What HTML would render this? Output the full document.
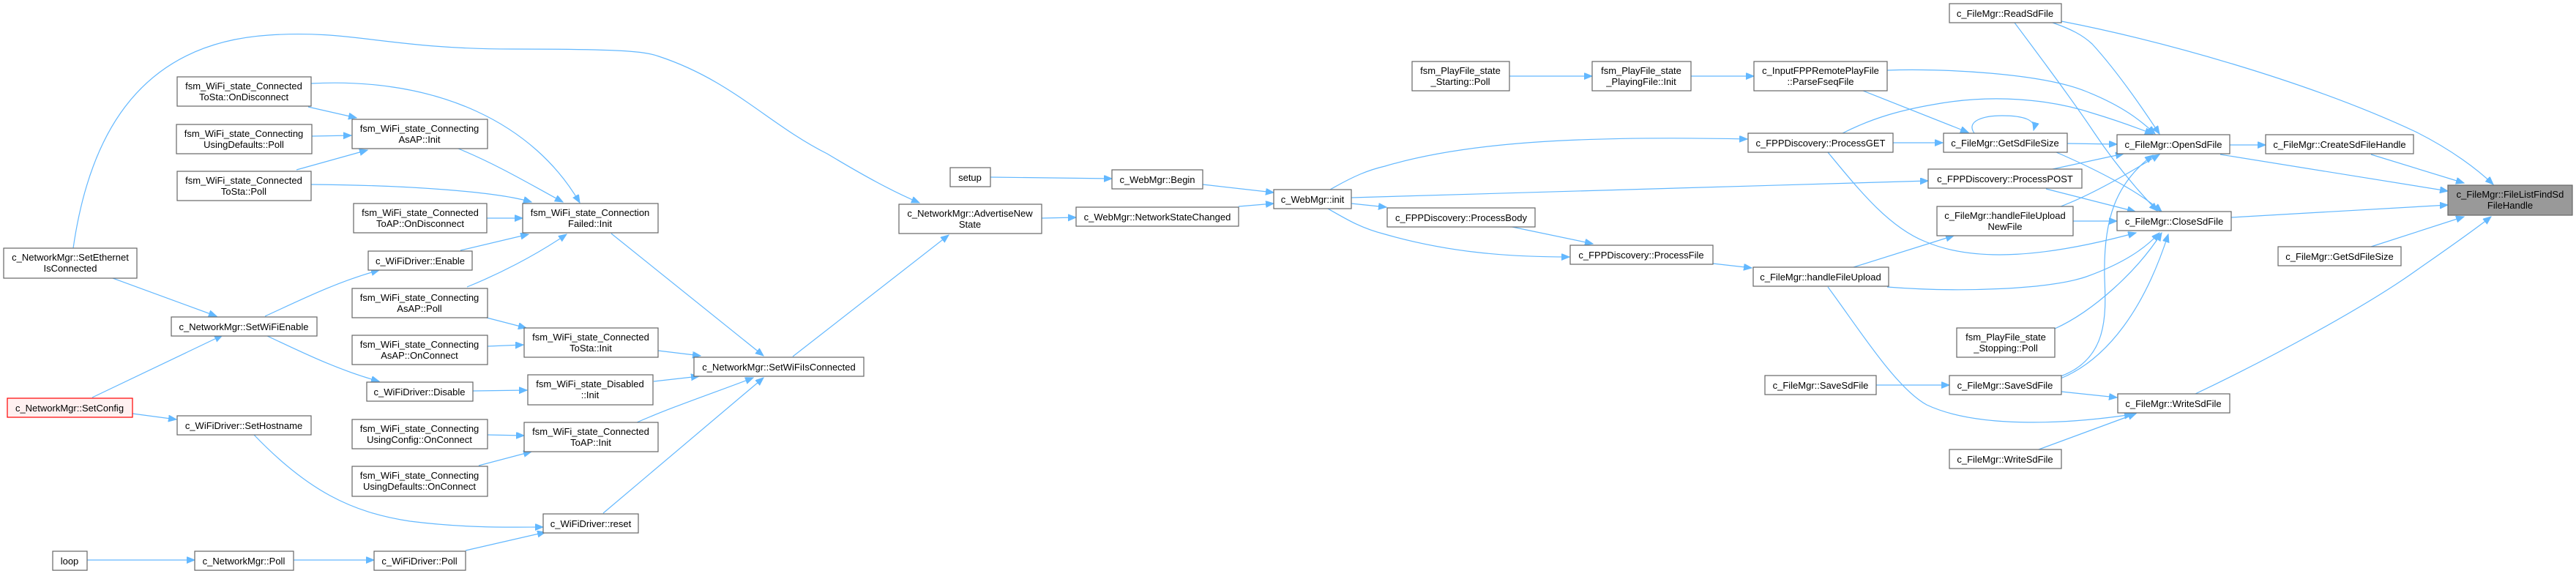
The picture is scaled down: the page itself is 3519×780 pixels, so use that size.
<!DOCTYPE html>
<html><head><meta charset="utf-8"><style>
html,body{margin:0;padding:0;background:#fff;}
svg{display:block;}
text{font-family:"Liberation Sans",Arial,sans-serif;font-size:13px;fill:#000;text-anchor:middle;}
rect{fill:#fff;stroke:#666;stroke-width:1.2;}
path{fill:none;stroke:#63b8ff;stroke-width:1.2;}
</style></head><body>
<svg width="3519" height="780" viewBox="0 0 3519 780" xmlns="http://www.w3.org/2000/svg">
<defs><marker id="a" markerUnits="userSpaceOnUse" markerWidth="12" markerHeight="10" refX="11" refY="4.5" orient="auto"><path d="M0,0 L11,4.5 L0,9 Z" style="fill:#63b8ff;stroke:#63b8ff;stroke-width:1"/></marker></defs>
<g marker-end="url(#a)">
<path d="M100,339 C120,200 180,60 367,48 C480,40 530,67 700,67 C850,67 880,70 900,77 C1000,110 1050,170 1130,210 C1180,240 1220,262 1256,277"/>
<path d="M425,114 C600,105 730,170 792,277"/>
<path d="M421,146 L487,161"/>
<path d="M426,186 L480,185"/>
<path d="M405,232 L502,205"/>
<path d="M626,203 C680,225 730,255 769,276"/>
<path d="M425,252 C560,253 680,262 726,276"/>
<path d="M665,298 L714,298"/>
<path d="M629,342 L722,320"/>
<path d="M638,392 C680,375 730,350 774,320"/>
<path d="M835,319 L1043,486"/>
<path d="M154,380 L296,432"/>
<path d="M362,432 C410,410 460,385 518,369"/>
<path d="M661,433 L719,448"/>
<path d="M666,473 L715,471"/>
<path d="M363,458 C410,480 460,505 518,521"/>
<path d="M646,534 L720,533"/>
<path d="M126,543 L304,458"/>
<path d="M181,565 L241,573"/>
<path d="M666,594 L716,595"/>
<path d="M654,636 L726,617"/>
<path d="M347,594 C420,670 480,700 560,712 C640,722 700,720 742,720"/>
<path d="M636,752 L745,727"/>
<path d="M119,765 L266,765"/>
<path d="M401,765 L511,765"/>
<path d="M899,479 L957,486"/>
<path d="M893,521 L955,514"/>
<path d="M870,577 C920,555 980,535 1029,516"/>
<path d="M824,701 L1043,516"/>
<path d="M1083,487 L1296,321"/>
<path d="M1353,242 L1519,244"/>
<path d="M1423,298 L1470,297"/>
<path d="M1643,252 L1740,263"/>
<path d="M1692,282 L1740,278"/>
<path d="M1817,259 C1850,240 1870,232 1892,227 C2000,195 2150,185 2387,190"/>
<path d="M1846,270 L2634,247"/>
<path d="M1846,278 L1894,283"/>
<path d="M1814,285 C1840,300 1860,312 1892,320 C1980,345 2060,351 2144,351"/>
<path d="M2061,309 L2176,333"/>
<path d="M2340,360 L2393,366"/>
<path d="M2062,104 L2175,104"/>
<path d="M2310,104 L2396,104"/>
<path d="M2578,96 C2650,93 2790,100 2850,125 C2900,145 2925,165 2944,183"/>
<path d="M2545,124 L2689,181"/>
<path d="M2517,182 C2560,160 2600,150 2640,143 C2720,128 2800,135 2860,155 C2900,167 2925,177 2941,183"/>
<path d="M2586,195 L2654,195"/>
<path d="M2497,208 C2540,260 2580,310 2630,330 C2700,360 2800,350 2918,318"/>
<path d="M2532,365 L2669,322"/>
<path d="M2578,392 C2680,400 2800,395 2850,378 C2900,360 2930,340 2950,318"/>
<path d="M2497,392 C2540,450 2590,530 2632,553 C2700,585 2820,580 2913,566"/>
<path d="M2563,526 L2663,526"/>
<path d="M2816,29 C2950,55 3150,110 3300,180 C3350,205 3385,232 3406,252"/>
<path d="M2804,31 C2830,40 2845,48 2858,60 C2890,95 2925,145 2950,183"/>
<path d="M2752,31 C2800,95 2840,150 2860,180 C2890,225 2920,260 2947,288"/>
<path d="M2697,182 C2685,165 2710,158 2735,158 C2765,158 2782,164 2778,178"/>
<path d="M2824,196 L2892,197"/>
<path d="M2809,208 C2860,230 2920,260 2953,289"/>
<path d="M2804,231 L2901,210"/>
<path d="M2795,258 L2917,289"/>
<path d="M2815,282 C2860,265 2910,235 2950,211"/>
<path d="M2832,302 L2892,302"/>
<path d="M2807,449 C2860,425 2920,370 2953,318"/>
<path d="M2815,514 C2880,490 2877,430 2875,380 C2873,300 2890,250 2941,212"/>
<path d="M2815,517 C2880,490 2930,420 2962,320"/>
<path d="M2816,535 L2892,543"/>
<path d="M2785,614 L2918,565"/>
<path d="M3046,198 L3095,198"/>
<path d="M3033,211 L3344,261"/>
<path d="M3239,211 L3366,250"/>
<path d="M3048,297 L3344,280"/>
<path d="M3239,337 L3366,296"/>
<path d="M2999,538 C3100,490 3230,420 3300,370 C3340,342 3375,318 3403,296"/>
</g>
<g>
<rect x="5" y="339" width="182" height="41"/><text x="96" y="356">c_NetworkMgr::SetEthernet</text><text x="96" y="371">IsConnected</text>
<rect x="242" y="105" width="183" height="40"/><text x="333" y="122">fsm_WiFi_state_Connected</text><text x="333" y="137">ToSta::OnDisconnect</text>
<rect x="241" y="170" width="185" height="40"/><text x="333" y="187">fsm_WiFi_state_Connecting</text><text x="333" y="202">UsingDefaults::Poll</text>
<rect x="242" y="234" width="183" height="40"/><text x="333" y="251">fsm_WiFi_state_Connected</text><text x="333" y="266">ToSta::Poll</text>
<rect x="481" y="163" width="185" height="40"/><text x="573" y="180">fsm_WiFi_state_Connecting</text><text x="573" y="195">AsAP::Init</text>
<rect x="483" y="278" width="182" height="40"/><text x="574" y="295">fsm_WiFi_state_Connected</text><text x="574" y="310">ToAP::OnDisconnect</text>
<rect x="714" y="278" width="185" height="40"/><text x="806" y="295">fsm_WiFi_state_Connection</text><text x="806" y="310">Failed::Init</text>
<rect x="503" y="343" width="142" height="26"/><text x="574" y="361">c_WiFiDriver::Enable</text>
<rect x="481" y="394" width="185" height="40"/><text x="573" y="411">fsm_WiFi_state_Connecting</text><text x="573" y="426">AsAP::Poll</text>
<rect x="234" y="433" width="199" height="26"/><text x="333" y="451">c_NetworkMgr::SetWiFiEnable</text>
<rect x="481" y="458" width="185" height="40"/><text x="573" y="475">fsm_WiFi_state_Connecting</text><text x="573" y="490">AsAP::OnConnect</text>
<rect x="716" y="448" width="183" height="40"/><text x="807" y="465">fsm_WiFi_state_Connected</text><text x="807" y="480">ToSta::Init</text>
<rect x="501" y="522" width="145" height="26"/><text x="573" y="540">c_WiFiDriver::Disable</text>
<rect x="721" y="512" width="171" height="41"/><text x="806" y="529">fsm_WiFi_state_Disabled</text><text x="806" y="544">::Init</text>
<rect x="10" y="544" width="171" height="26" style="fill:#fff0f0;stroke:#f00"/><text x="95" y="562">c_NetworkMgr::SetConfig</text>
<rect x="242" y="568" width="183" height="26"/><text x="333" y="586">c_WiFiDriver::SetHostname</text>
<rect x="481" y="573" width="185" height="40"/><text x="573" y="590">fsm_WiFi_state_Connecting</text><text x="573" y="605">UsingConfig::OnConnect</text>
<rect x="716" y="577" width="183" height="40"/><text x="807" y="594">fsm_WiFi_state_Connected</text><text x="807" y="609">ToAP::Init</text>
<rect x="481" y="637" width="185" height="41"/><text x="573" y="654">fsm_WiFi_state_Connecting</text><text x="573" y="669">UsingDefaults::OnConnect</text>
<rect x="742" y="702" width="130" height="26"/><text x="807" y="720">c_WiFiDriver::reset</text>
<rect x="72" y="753" width="47" height="26"/><text x="95" y="771">loop</text>
<rect x="266" y="753" width="135" height="26"/><text x="333" y="771">c_NetworkMgr::Poll</text>
<rect x="511" y="753" width="125" height="26"/><text x="573" y="771">c_WiFiDriver::Poll</text>
<rect x="1298" y="229" width="55" height="26"/><text x="1325" y="247">setup</text>
<rect x="1519" y="232" width="124" height="26"/><text x="1581" y="250">c_WebMgr::Begin</text>
<rect x="1228" y="279" width="195" height="40"/><text x="1325" y="296">c_NetworkMgr::AdvertiseNew</text><text x="1325" y="311">State</text>
<rect x="1470" y="283" width="222" height="26"/><text x="1581" y="301">c_WebMgr::NetworkStateChanged</text>
<rect x="1740" y="259" width="106" height="26"/><text x="1793" y="277">c_WebMgr::init</text>
<rect x="948" y="488" width="232" height="26"/><text x="1064" y="506">c_NetworkMgr::SetWiFiIsConnected</text>
<rect x="1929" y="84" width="133" height="40"/><text x="1995" y="101">fsm_PlayFile_state</text><text x="1995" y="116">_Starting::Poll</text>
<rect x="2175" y="84" width="135" height="40"/><text x="2242" y="101">fsm_PlayFile_state</text><text x="2242" y="116">_PlayingFile::Init</text>
<rect x="2396" y="84" width="182" height="40"/><text x="2487" y="101">c_InputFPPRemotePlayFile</text><text x="2487" y="116">::ParseFseqFile</text>
<rect x="2388" y="182" width="198" height="26"/><text x="2487" y="200">c_FPPDiscovery::ProcessGET</text>
<rect x="2634" y="231" width="210" height="26"/><text x="2739" y="249">c_FPPDiscovery::ProcessPOST</text>
<rect x="1895" y="284" width="202" height="26"/><text x="1996" y="302">c_FPPDiscovery::ProcessBody</text>
<rect x="2145" y="335" width="195" height="26"/><text x="2242" y="353">c_FPPDiscovery::ProcessFile</text>
<rect x="2395" y="365" width="185" height="26"/><text x="2487" y="383">c_FileMgr::handleFileUpload</text>
<rect x="2411" y="513" width="152" height="26"/><text x="2487" y="531">c_FileMgr::SaveSdFile</text>
<rect x="2663" y="5" width="153" height="26"/><text x="2739" y="23">c_FileMgr::ReadSdFile</text>
<rect x="2655" y="182" width="169" height="26"/><text x="2739" y="200">c_FileMgr::GetSdFileSize</text>
<rect x="2646" y="282" width="186" height="40"/><text x="2739" y="299">c_FileMgr::handleFileUpload</text><text x="2739" y="314">NewFile</text>
<rect x="2673" y="448" width="134" height="40"/><text x="2740" y="465">fsm_PlayFile_state</text><text x="2740" y="480">_Stopping::Poll</text>
<rect x="2663" y="513" width="153" height="26"/><text x="2739" y="531">c_FileMgr::SaveSdFile</text>
<rect x="2663" y="614" width="153" height="26"/><text x="2739" y="632">c_FileMgr::WriteSdFile</text>
<rect x="2892" y="184" width="154" height="26"/><text x="2969" y="202">c_FileMgr::OpenSdFile</text>
<rect x="2892" y="289" width="156" height="26"/><text x="2970" y="307">c_FileMgr::CloseSdFile</text>
<rect x="2893" y="538" width="153" height="26"/><text x="2969" y="556">c_FileMgr::WriteSdFile</text>
<rect x="3095" y="184" width="202" height="26"/><text x="3196" y="202">c_FileMgr::CreateSdFileHandle</text>
<rect x="3112" y="337" width="168" height="26"/><text x="3196" y="355">c_FileMgr::GetSdFileSize</text>
<rect x="3344" y="253" width="170" height="41" style="fill:#999"/><text x="3429" y="270">c_FileMgr::FileListFindSd</text><text x="3429" y="285">FileHandle</text>
</g>
</svg>
</body></html>
